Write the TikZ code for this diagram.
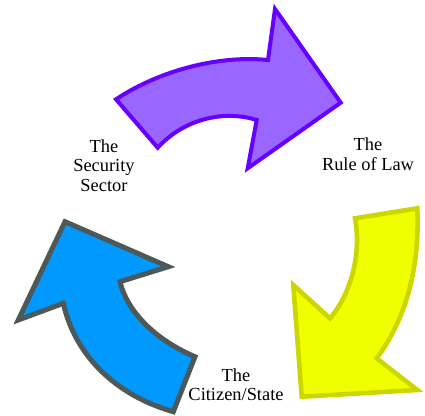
\documentclass[tikz,border=0pt]{standalone}
\usepackage{fontspec}
\setmainfont{Liberation Serif}
\definecolor{pfill}{RGB}{153,102,255}
\definecolor{pline}{RGB}{102,0,255}
\definecolor{yfill}{RGB}{240,255,0}
\definecolor{yline}{RGB}{204,214,0}
\definecolor{bfill}{RGB}{0,153,255}
\definecolor{bline}{RGB}{77,89,89}
\begin{document}
\begin{tikzpicture}[x=1pt,y=-1pt,
  arrowshape/.style={line width=4pt, line join=miter},
  label/.style={font=\fontsize{18.4}{19.5}\selectfont, align=center, inner sep=0pt}]
\useasboundingbox (0,0) rectangle (425,415);
% purple arrow
\draw[arrowshape, draw=pline, fill=pfill]
  (157.7,147.7) -- (116,99.3) .. controls (160,70) and (220,55) .. (268,60)
  -- (275,9) -- (340.7,102.7) -- (247.7,168.3) -- (256.7,120)
  .. controls (225,110) and (185,118) .. cycle;
% yellow arrow
\draw[arrowshape, line width=4.6pt, draw=yline, fill=yfill]
  (355,218.3) -- (417.3,208.3) .. controls (420,270) and (405,320) .. (376.7,358.3)
  -- (417.3,390) -- (301.7,396.7) -- (293.3,285) -- (330,318.3)
  .. controls (350,295) and (362,255) .. cycle;
% blue arrow
\draw[arrowshape, line width=5pt, draw=bline, fill=bfill]
  (65,221.7) -- (168.3,266.7) -- (120,281.7) .. controls (128,315) and (160,342) .. (195,356.7)
  -- (173.3,411.7) .. controls (115,395) and (75,355) .. (63.3,303.3)
  -- (18.3,320) -- cycle;
% labels
\node[label] (law) at (368,154) {The\\Rule of Law};
\node[label] (sec) at (104,165.5) {The\\Security\\Sector};
\node[label] (cit) at (236,384.5) {The\\Citizen/State};
\end{tikzpicture}
\end{document}
